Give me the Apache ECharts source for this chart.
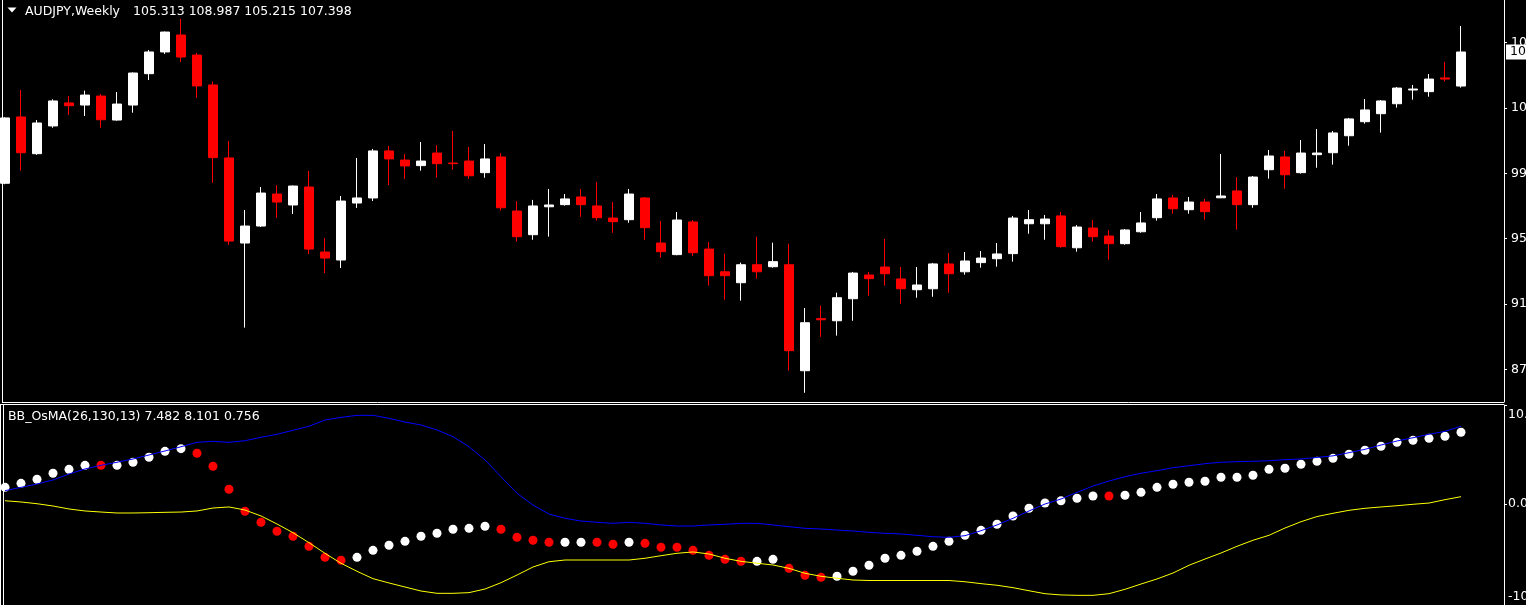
<!DOCTYPE html>
<html>
<head>
<meta charset="utf-8">
<script src="https://cdn.jsdelivr.net/npm/echarts@6/dist/echarts.min.js"></script>
<style>
html,body{margin:0;padding:0;background:#000;overflow:hidden;}
#chart{width:1526px;height:605px;}
</style>
</head>
<body>
<div id="chart"></div>
<script>
// ---------- data ----------
const symbolTitle = 'AUDJPY,Weekly';
const lastQuote = [105.313, 108.987, 105.215, 107.398]; // O H L C of last bar

const open = [99.36,103.42,101.17,102.87,104.28,104.15,104.70,103.23,104.15,106.07,
  107.40,108.44,107.21,105.38,100.91,95.70,96.74,98.70,98.03,99.13,
  95.15,94.66,98.15,98.46,101.34,100.78,100.44,101.21,100.60,100.72,
  100.01,100.97,97.66,96.21,97.92,98.05,98.52,97.97,97.23,97.13,
  98.46,95.70,94.99,96.99,95.33,93.94,93.27,94.37,94.25,94.37,
  87.88,91.07,90.94,92.29,93.74,94.23,93.50,92.84,92.90,94.42,
  93.94,94.50,94.74,95.05,96.88,96.88,97.36,95.41,96.62,96.13,
  95.66,96.39,97.25,98.46,97.74,98.21,98.47,98.89,98.05,100.19,
  100.97,100.01,101.11,101.23,102.27,103.13,103.62,104.23,105.07,104.97,
  105.81,105.313];
const high = [103.40,105.07,103.23,104.50,104.70,105.03,104.83,104.95,106.15,107.52,
  108.65,109.42,107.34,105.58,101.95,97.72,99.13,99.25,99.22,100.11,
  96.01,98.58,100.91,101.46,101.64,101.15,101.89,101.70,102.56,101.58,
  101.76,101.21,98.27,98.34,99.01,98.70,99.01,99.44,98.21,99.01,
  98.52,97.05,97.60,97.11,95.76,95.05,94.50,96.09,95.72,95.66,
  91.72,91.86,92.66,93.93,93.93,95.95,94.23,94.23,94.48,95.09,
  95.15,95.21,95.70,97.36,97.72,97.42,97.60,96.80,97.11,96.50,
  96.56,97.60,98.70,98.64,98.52,98.40,101.15,99.74,99.80,101.40,
  101.34,102.01,102.68,102.56,103.36,104.52,104.46,105.25,105.38,106.05,
  106.79,108.987];
const low = [99.30,100.13,101.10,102.76,103.54,103.48,102.76,103.19,103.68,105.68,
  107.28,106.79,104.58,99.38,95.58,90.52,96.68,97.23,97.48,95.03,
  93.86,94.17,97.85,98.27,99.25,99.62,100.13,99.70,100.19,99.62,
  99.70,97.68,95.78,95.90,96.09,97.99,97.31,97.07,96.33,96.94,
  95.90,94.80,94.95,94.92,93.09,92.23,92.17,93.52,94.19,87.88,
  86.53,89.96,90.03,90.94,92.47,93.09,91.98,92.35,92.41,92.66,
  93.76,94.19,94.25,94.56,96.27,95.90,95.41,95.17,95.78,94.68,
  95.60,96.33,97.07,97.50,97.50,97.13,98.45,96.52,97.86,99.64,
  99.03,99.95,100.31,100.50,101.66,103.01,102.46,103.99,104.48,104.66,
  105.58,105.215];
const close = [103.36,101.23,103.05,104.40,104.11,104.76,103.25,104.21,106.11,107.40,
  108.62,107.09,105.32,100.93,95.82,96.74,98.76,98.21,99.19,95.33,
  94.78,98.27,98.46,101.34,100.85,100.42,100.72,100.56,100.56,99.82,
  100.85,97.86,96.09,97.97,98.03,98.40,98.05,97.25,97.01,98.70,
  96.64,95.17,97.11,95.11,93.70,93.70,94.37,93.94,94.56,89.11,
  90.82,91.00,92.35,93.86,93.52,93.82,92.90,93.13,94.42,93.82,
  94.60,94.78,95.03,97.23,97.13,97.17,95.48,96.68,96.09,95.66,
  96.50,96.93,98.40,97.80,98.21,97.62,98.58,98.05,99.74,101.03,
  99.88,101.21,101.21,102.44,103.30,103.85,104.40,105.19,105.13,105.74,
  105.74,107.398];

const indicatorName = 'BB_OsMA(26,130,13)';
const indicatorValues = [7.482, 8.101, 0.756];
const osma = [1.73,2.15,2.57,3.20,3.61,4.03,4.03,4.03,4.35,4.87,
  5.49,5.77,5.29,3.93,1.53,-0.77,-1.92,-2.86,-3.38,-4.43,
  -5.58,-5.89,-5.58,-4.85,-4.32,-3.91,-3.38,-3.07,-2.65,-2.55,
  -2.34,-2.65,-3.49,-3.80,-4.01,-4.01,-4.01,-4.01,-4.22,-4.01,
  -4.12,-4.53,-4.53,-4.85,-5.37,-5.79,-6.00,-6.00,-5.79,-6.73,
  -7.46,-7.67,-7.56,-7.04,-6.41,-5.68,-5.37,-4.95,-4.43,-3.91,
  -3.28,-2.76,-2.13,-1.26,-0.46,0.09,0.33,0.59,0.83,0.83,
  0.90,1.21,1.73,2.05,2.26,2.36,2.78,2.78,2.99,3.61,
  3.72,4.14,4.45,4.76,5.18,5.60,6.02,6.43,6.64,6.85,
  7.06,7.482];
// 1 = falling (red) dot, 0 = rising (white) dot
const osmaDown = [0,0,0,0,0,0,1,0,0,0,
  0,0,1,1,1,1,1,1,1,1,
  1,1,0,0,0,0,0,0,0,0,
  0,1,1,1,1,0,0,1,1,0,
  1,1,1,1,1,1,1,0,0,1,
  1,1,0,0,0,0,0,0,0,0,
  0,0,0,0,0,0,0,0,0,1,
  0,0,0,0,0,0,0,0,0,0,
  0,0,0,0,0,0,0,0,0,0,
  0,0];
const upperBand = [1.38,1.73,2.08,2.50,3.12,3.65,4.03,4.35,4.69,5.11,
  5.53,5.97,6.43,6.54,6.43,6.60,6.96,7.27,7.69,8.11,
  8.76,9.04,9.25,9.25,8.94,8.55,8.24,7.72,7.02,5.97,
  4.59,2.84,1.11,-0.12,-1.06,-1.50,-1.79,-1.92,-2.03,-1.92,
  -2.03,-2.20,-2.31,-2.31,-2.20,-2.13,-2.03,-2.03,-2.20,-2.38,
  -2.55,-2.62,-2.73,-2.83,-2.97,-3.07,-3.14,-3.28,-3.43,-3.49,
  -3.32,-2.80,-2.20,-1.50,-0.74,-0.01,0.51,1.21,1.87,2.39,
  2.84,3.20,3.47,3.78,3.99,4.20,4.35,4.41,4.45,4.51,
  4.62,4.69,4.85,5.02,5.35,5.70,6.15,6.57,6.91,7.27,
  7.58,8.101];
const lowerBand = [0.33,0.20,0.02,-0.22,-0.53,-0.74,-0.85,-0.95,-0.95,-0.92,
  -0.88,-0.85,-0.74,-0.43,-0.32,-0.64,-1.26,-2.10,-3.01,-4.05,
  -5.16,-6.20,-7.04,-7.81,-8.26,-8.68,-9.10,-9.34,-9.34,-9.27,
  -8.89,-8.23,-7.43,-6.59,-6.04,-5.86,-5.86,-5.86,-5.86,-5.86,
  -5.68,-5.41,-5.16,-5.02,-5.23,-5.68,-6.00,-6.20,-6.38,-6.73,
  -7.25,-7.56,-7.77,-7.95,-8.00,-8.00,-8.00,-8.00,-8.00,-8.00,
  -8.13,-8.33,-8.50,-8.75,-9.07,-9.38,-9.51,-9.55,-9.55,-9.38,
  -8.92,-8.37,-7.84,-7.22,-6.41,-5.76,-5.13,-4.43,-3.80,-3.28,
  -2.52,-1.86,-1.32,-0.98,-0.67,-0.46,-0.32,-0.19,-0.04,0.09,
  0.44,0.756];

const priceTicks = [87.97, 91.97, 95.97, 99.97, 103.97, 107.97];
const priceTickLabels = ['87.970', '91.970', '95.970', '99.970', '103.970', '107.970'];
const priceRange = [85.965, 110.582];
const osmaRange = [-10.56, 10.33];
const osmaTickLabels = ['10.3300', '0.0000', '-10.5600'];

// ---------- chart ----------
const weeks = open.map((_, i) => 'W' + (i + 1));
const FONT = '"DejaVu Sans", sans-serif';
const FS = 12.5;

const candles = open.map((o, i) => [o, close[i], low[i], high[i]]);
const dots = osma.map((v, i) => ({
  value: v,
  itemStyle: { color: osmaDown[i] ? '#ff0000' : '#ffffff', opacity: 1 }
}));

const LOWER_H = 200;
const pxPerUnit = LOWER_H / (osmaRange[1] - osmaRange[0]);
const osmaLabelAt = [osmaRange[1] - 10 / pxPerUnit, 0, osmaRange[0] + 8 / pxPerUnit];

function nearestLabel(v, ticks, labels) {
  let best = 0;
  for (let i = 1; i < ticks.length; i++) {
    if (Math.abs(ticks[i] - v) < Math.abs(ticks[best] - v)) best = i;
  }
  return labels[best];
}

const chart = echarts.init(document.getElementById('chart'), null, { renderer: 'canvas' });
const white = '#ffffff';

chart.setOption({
  backgroundColor: '#000000',
  animation: false,
  grid: [
    { left: -3, right: 57, top: 0, height: 402, containLabel: false, outerBoundsMode: 'none' },
    { left: -3, right: 57, top: 405, height: LOWER_H, containLabel: false, outerBoundsMode: 'none' }
  ],
  xAxis: [
    { type: 'category', gridIndex: 0, data: weeks, show: false, boundaryGap: true },
    { type: 'category', gridIndex: 1, data: weeks, show: false, boundaryGap: true }
  ],
  yAxis: [
    {
      gridIndex: 0, type: 'value', position: 'right', offset: 35,
      min: priceRange[0], max: priceRange[1],
      axisLine: { show: true, onZero: false, lineStyle: { color: white, width: 1 } },
      axisTick: { show: true, length: 3, customValues: priceTicks, lineStyle: { color: white } },
      axisLabel: {
        customValues: priceTicks, color: white, fontFamily: FONT, fontSize: FS, margin: 7,
        formatter: v => nearestLabel(v, priceTicks, priceTickLabels)
      },
      splitLine: { show: false }
    },
    {
      gridIndex: 0, type: 'value', position: 'right', offset: 35,
      min: priceRange[0], max: priceRange[1],
      axisLine: { show: false }, axisTick: { show: false },
      axisLabel: {
        customValues: [lastQuote[3]], color: '#000000', backgroundColor: white,
        padding: [1, 20, 1, 4], fontFamily: FONT, fontSize: FS, margin: 2,
        formatter: () => lastQuote[3].toFixed(3)
      },
      splitLine: { show: false }
    },
    {
      gridIndex: 1, type: 'value', position: 'right', offset: 35,
      min: osmaRange[0], max: osmaRange[1],
      axisLine: { show: true, onZero: false, lineStyle: { color: white, width: 1 } },
      axisTick: { show: true, length: 3, customValues: [osmaRange[1], 0, osmaRange[0]], lineStyle: { color: white } },
      axisLabel: {
        customValues: osmaLabelAt, color: white, fontFamily: FONT, fontSize: FS, margin: 4,
        formatter: v => (v > 1 ? osmaTickLabels[0] : (v < -1 ? osmaTickLabels[2] : osmaTickLabels[1]))
      },
      splitLine: { show: false }
    }
  ],
  series: [
    {
      type: 'candlestick', xAxisIndex: 0, yAxisIndex: 0, data: candles,
      barWidth: 10, silent: true,
      itemStyle: {
        color: white, color0: '#ff0000',
        borderColor: white, borderColor0: '#ff0000', borderWidth: 1
      }
    },
    {
      type: 'scatter', xAxisIndex: 1, yAxisIndex: 2, data: dots,
      symbol: 'circle', symbolSize: 9, silent: true, z: 2,
      itemStyle: { opacity: 1 }
    },
    {
      type: 'line', xAxisIndex: 1, yAxisIndex: 2, data: upperBand,
      showSymbol: false, silent: true, z: 3,
      lineStyle: { color: '#0000ff', width: 1 }, itemStyle: { color: '#0000ff' }
    },
    {
      type: 'line', xAxisIndex: 1, yAxisIndex: 2, data: lowerBand,
      showSymbol: false, silent: true, z: 3,
      lineStyle: { color: '#ffff00', width: 1 }, itemStyle: { color: '#ffff00' }
    }
  ],
  graphic: [
    { type: 'polygon', shape: { points: [[7.5, 7.5], [16.5, 7.5], [12, 12.5]] }, style: { fill: white }, silent: true },
    { type: 'text', x: 25, y: 12, silent: true,
      style: { text: symbolTitle, fill: white, font: FS + 'px ' + FONT, verticalAlign: 'middle' } },
    { type: 'text', x: 133, y: 12, silent: true,
      style: { text: lastQuote.map(v => v.toFixed(3)).join(' '), fill: white, font: FS + 'px ' + FONT, verticalAlign: 'middle' } },
    { type: 'text', x: 8, y: 417, silent: true,
      style: { text: indicatorName + ' ' + indicatorValues.map(v => v.toFixed(3)).join(' '), fill: white, font: FS + 'px ' + FONT, verticalAlign: 'middle' } },
    // pane frames
    { type: 'line', silent: true, shape: { x1: 2.5, y1: 0, x2: 2.5, y2: 402 }, style: { stroke: white, lineWidth: 1 } },
    { type: 'line', silent: true, shape: { x1: 2, y1: 402.5, x2: 1504, y2: 402.5 }, style: { stroke: white, lineWidth: 1 } },
    { type: 'line', silent: true, shape: { x1: 0, y1: 404.5, x2: 1504, y2: 404.5 }, style: { stroke: white, lineWidth: 1 } },
    { type: 'line', silent: true, shape: { x1: 0.5, y1: 404, x2: 0.5, y2: 605 }, style: { stroke: white, lineWidth: 1 } },
    { type: 'line', silent: true, shape: { x1: 3.5, y1: 405, x2: 3.5, y2: 605 }, style: { stroke: white, lineWidth: 1 } }
  ]
});
</script>
</body>
</html>
